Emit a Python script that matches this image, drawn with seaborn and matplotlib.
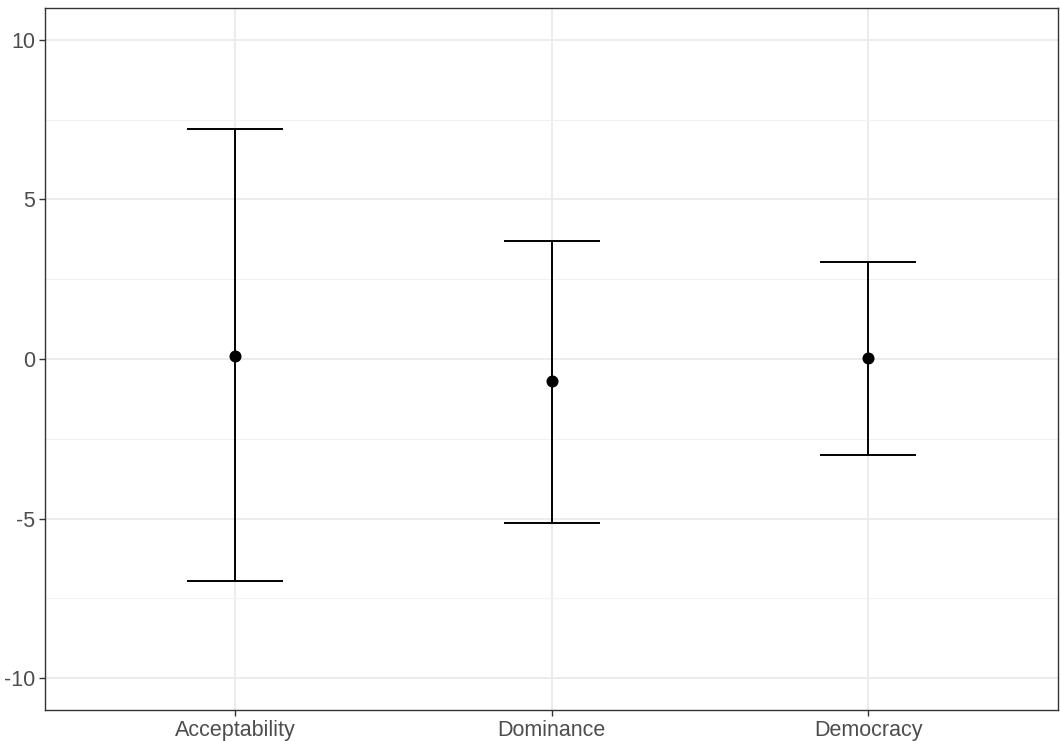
import numpy as np
import pandas as pd
import seaborn as sns
import matplotlib.pyplot as plt
from matplotlib.ticker import MultipleLocator

# values
categories = ["Acceptability", "Dominance", "Democracy"]
estimate = [0.10, -0.70, 0.03]
lower = [-6.97, -5.13, -3.00]
upper = [7.20, 3.69, 3.03]

df = pd.DataFrame({"cat": categories, "est": estimate, "lo": lower, "hi": upper})

sns.set_style("white")
plt.rcParams["font.family"] = ["Liberation Sans", "DejaVu Sans"]

fig = plt.figure(figsize=(10.6, 7.41), dpi=100)
ax = fig.add_axes([45 / 1060, 1 - 710 / 741, (1058 - 45) / 1060, (710 - 8) / 741])

sns.scatterplot(data=df, x="cat", y="est", color="black", s=75, linewidth=0,
                zorder=4, ax=ax, legend=False)
ax.errorbar(df["cat"], df["est"],
            yerr=[df["est"] - df["lo"], df["hi"] - df["est"]],
            fmt="none", ecolor="black", elinewidth=1.4, capsize=34.5, capthick=1.4, zorder=3)

ax.set_xlim(-0.6, 2.6)
ax.set_ylim(-11, 11)
ax.yaxis.set_major_locator(MultipleLocator(5))
ax.yaxis.set_minor_locator(MultipleLocator(2.5))
ax.grid(which="major", color="#EBEBEB", linewidth=1.3)
ax.grid(which="minor", axis="y", color="#F2F2F2", linewidth=0.8)
ax.set_axisbelow(True)
ax.set_xlabel("")
ax.set_ylabel("")
ax.set_yticks([-10, -5, 0, 5, 10])
ax.set_yticklabels(["-10", "-5", "0", "5", "10"])
ax.tick_params(axis="both", which="major", length=4, width=1, color="#333333",
               labelcolor="#4D4D4D", labelsize=15.5, left=True, bottom=True, pad=3)
ax.tick_params(axis="y", which="minor", length=0)
for s in ax.spines.values():
    s.set_color("#333333")
    s.set_linewidth(1.0)

fig.savefig("out.png", dpi=100)
